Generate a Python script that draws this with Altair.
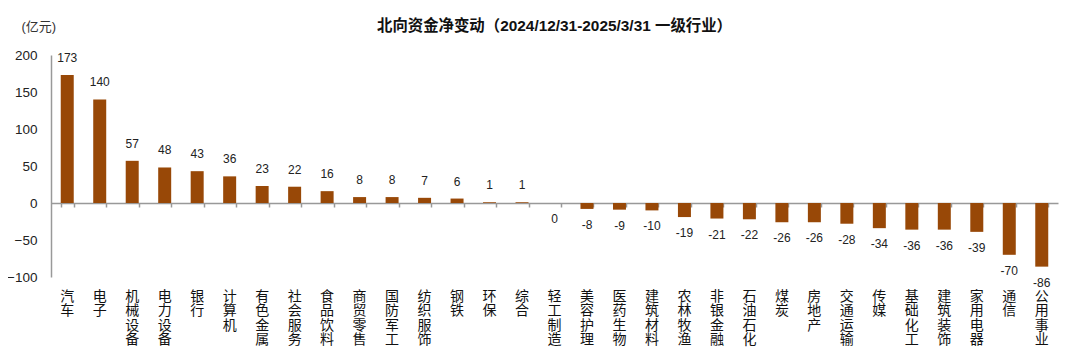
import altair as alt
import pandas as pd

categories = ["汽车", "电子", "机械设备", "电力设备", "银行", "计算机", "有色金属", "社会服务",
              "食品饮料", "商贸零售", "国防军工", "纺织服饰", "钢铁", "环保", "综合", "轻工制造",
              "美容护理", "医药生物", "建筑材料", "农林牧渔", "非银金融", "石油石化", "煤炭", "房地产",
              "交通运输", "传媒", "基础化工", "建筑装饰", "家用电器", "通信", "公用事业"]
values = [173, 140, 57, 48, 43, 36, 23, 22, 16, 8, 8, 7, 6, 1, 1, 0,
          -8, -9, -10, -19, -21, -22, -26, -26, -28, -34, -36, -36, -39, -70, -86]
y_ticks = [-100, -50, 0, 50, 100, 150, 200]

df = pd.DataFrame({"cat": categories, "val": values})
df["lbl"] = df["val"].astype(str)

FONT = "Liberation Sans, Arial, Noto Sans CJK SC"
BAR = "#984807"
GREY = "#999999"

xscale = alt.Scale(paddingInner=0.6, paddingOuter=0.3)
yscale = alt.Scale(domain=[-100, 200], nice=False, zero=False)

yaxis = alt.Axis(title="(亿元)", values=y_ticks, grid=False, ticks=False,
                 labelOverlap=False,
                 domainColor=GREY, domainWidth=1.5, labelFontSize=13.5, labelFont=FONT,
                 labelColor="#222222", labelPadding=14,
                 titleAngle=0, titleAlign="left", titleBaseline="middle",
                 titleX=-30, titleY=-29, titleFontSize=13, titleFontWeight="normal",
                 titleFont=FONT, titleColor="#333333")
Y = alt.Y("val:Q", scale=yscale, axis=yaxis)

base = alt.Chart(df)

bars = base.mark_bar(color=BAR).encode(
    x=alt.X("cat:N", sort=None, scale=xscale,
            axis=alt.Axis(title=None, domain=False, ticks=False, labelAngle=0,
                          labelExpr="split(datum.label, '')", labelLineHeight=14.5,
                          labelFontSize=14, labelFont=FONT, labelColor="#111111",
                          labelPadding=12, labelBaseline="top")),
    y=Y,
)

zero_axis = base.mark_bar(opacity=0).encode(
    x=alt.X("cat:N", sort=None, scale=xscale,
            axis=alt.Axis(title=None, orient="bottom", offset=-74, labels=False,
                          domain=True, domainColor=GREY, domainWidth=1.5,
                          ticks=True, tickBand="extent", tickSize=4, tickColor=GREY,
                          tickWidth=1.5)),
    y=Y,
)

pos_labels = base.transform_filter("datum.val > 0").mark_text(
    dy=-17, baseline="middle", fontSize=12, font=FONT, color="#222222"
).encode(x=alt.X("cat:N", sort=None, scale=xscale), y=Y, text="lbl:N")

neg_labels = base.transform_filter("datum.val <= 0").mark_text(
    dy=16, baseline="middle", fontSize=12, font=FONT, color="#222222"
).encode(x=alt.X("cat:N", sort=None, scale=xscale), y=Y, text="lbl:N")

main = alt.layer(bars, pos_labels, neg_labels)

chart = alt.layer(main, zero_axis).resolve_scale(x="independent").properties(
    width=1007, height=222,
    autosize=alt.AutoSizeParams(type="none"),
    padding={"left": 43, "top": 47, "right": 14, "bottom": 77},
    title=alt.TitleParams("北向资金净变动（2024/12/31-2025/3/31 一级行业）",
                          anchor="middle", fontSize=15.4, fontWeight="bold", font=FONT,
                          color="#111111", offset=-14),
).configure_view(stroke=None)

chart.save("out.html", embed_options={"renderer": "svg", "actions": False})
